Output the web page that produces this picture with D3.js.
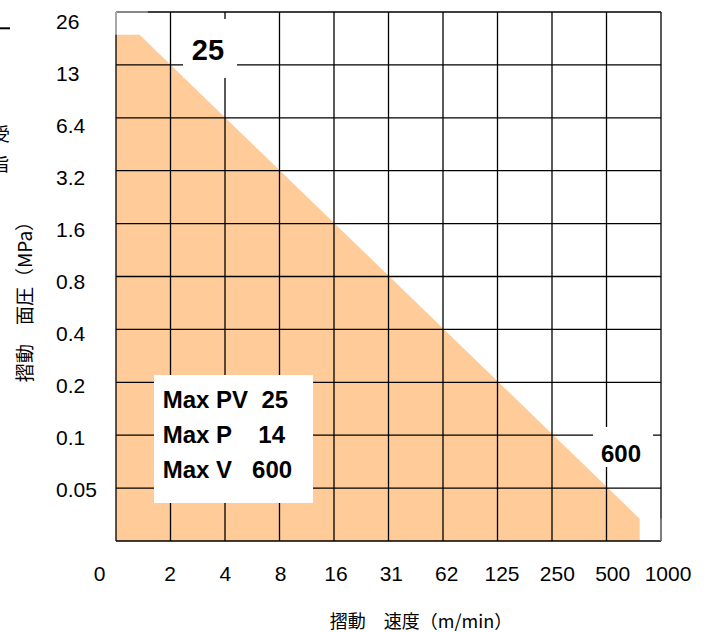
<!DOCTYPE html>
<html>
<head>
<meta charset="utf-8">
<script src="https://cdn.jsdelivr.net/npm/d3@7"></script>
<style>
  body { margin: 0; background: #fff; }
  text { font-family: "Liberation Sans", Arial, sans-serif; fill: #000; }
  .jp { font-family: "Noto Sans CJK JP", sans-serif; }
</style>
</head>
<body>
<div id="target"></div>
<script>
// speed axis (m/min): grid positions on a base-2 log scale, printed labels
const speedGrid = [1, 2, 4, 8, 16, 32, 64, 128, 256, 512, 1024];
const speedLabels = ["0", "2", "4", "8", "16", "31", "62", "125", "250", "500", "1000"];

// pressure axis (MPa)
const pressureGrid = [26, 13, 6.5, 3.25, 1.625, 0.8125, 0.40625, 0.203125, 0.1015625, 0.05078125, 0.025390625];
const pressureLabels = ["26", "13", "6.4", "3.2", "1.6", "0.8", "0.4", "0.2", "0.1", "0.05"];

// allowable PV envelope (speed, pressure)
const envSpeed = [1, 1.35, 781, 781, 1];
const envPressure = [19.3, 19.3, 0.034, 0.025390625, 0.025390625];

// limits box
const limitNames = ["Max PV  25", "Max P    14", "Max V   600"];

function chart() {
  const width = 708,
    height = 632,
    left = 116,
    right = 661,
    top = 12,
    bottom = 541;

  let svg = d3.select("#target").append("svg")
    .attr("width", width)
    .attr("height", height);

  let x = d3.scaleLog().base(2)
    .domain([speedGrid[0], speedGrid[speedGrid.length - 1]])
    .range([left, right]);
  let y = d3.scaleLog().base(2)
    .domain([pressureGrid[pressureGrid.length - 1], pressureGrid[0]])
    .range([bottom, top]);

  // filled envelope
  let pts = envSpeed.map((v, i) => [x(v), y(envPressure[i])]);
  svg.append("path")
    .attr("d", d3.line()(pts) + "Z")
    .attr("fill", "#ffcc99");

  // grid
  svg.append("g")
    .selectAll("line.v")
    .data(speedGrid)
    .enter().append("line")
    .attr("x1", (d) => x(d)).attr("x2", (d) => x(d))
    .attr("y1", top).attr("y2", bottom)
    .attr("stroke", "#000").attr("stroke-width", 1.3);
  svg.append("g")
    .selectAll("line.h")
    .data(pressureGrid)
    .enter().append("line")
    .attr("y1", (d) => y(d)).attr("y2", (d) => y(d))
    .attr("x1", left).attr("x2", right)
    .attr("stroke", "#000").attr("stroke-width", 1.3);

  // greyish frame where the envelope leaves the border
  svg.append("line")
    .attr("x1", left).attr("x2", x(1.5))
    .attr("y1", top).attr("y2", top)
    .attr("stroke", "#999").attr("stroke-width", 1.6);
  svg.append("line")
    .attr("x1", left).attr("x2", left)
    .attr("y1", top).attr("y2", y(envPressure[0]))
    .attr("stroke", "#bbb").attr("stroke-width", 1.6);
  svg.append("line")
    .attr("x1", right).attr("x2", right)
    .attr("y1", y(envPressure[2])).attr("y2", bottom)
    .attr("stroke", "#888").attr("stroke-width", 1.6);

  // tick labels
  let lx = d3.scaleLinear().domain([1, 10]).range([170, 668]);
  svg.append("g")
    .selectAll("text")
    .data(speedLabels)
    .enter().append("text")
    .attr("x", (d, i) => i === 0 ? 99.5 : lx(i))
    .attr("y", 580.5)
    .attr("text-anchor", "middle")
    .style("font-size", "21px")
    .text((d) => d);

  let ly = d3.scalePoint().domain(pressureLabels).range([21.3, 489.2]);
  svg.append("g")
    .selectAll("text")
    .data(pressureLabels)
    .enter().append("text")
    .attr("x", 56)
    .attr("y", (d) => ly(d))
    .attr("dy", "0.36em")
    .style("font-size", "21px")
    .text((d) => d);

  // axis titles
  svg.append("text")
    .attr("class", "jp")
    .attr("x", 421)
    .attr("y", 628)
    .attr("text-anchor", "middle")
    .style("font-size", "18px")
    .text("摺動　速度（m/min）");
  svg.append("text")
    .attr("class", "jp")
    .attr("transform", "translate(31.5,297) rotate(-90)")
    .attr("text-anchor", "middle")
    .style("font-size", "19px")
    .text("摺動　面圧（MPa）");

  // "25" annotation
  svg.append("rect")
    .attr("x", 183).attr("y", 19)
    .attr("width", 54).attr("height", 59)
    .attr("fill", "#fff");
  svg.append("text")
    .attr("x", 208).attr("y", 60)
    .attr("text-anchor", "middle")
    .style("font-size", "29px").style("font-weight", "bold")
    .text("25");

  // "600" annotation
  svg.append("rect")
    .attr("x", 593).attr("y", 427)
    .attr("width", 60).attr("height", 40)
    .attr("fill", "#fff");
  svg.append("text")
    .attr("x", 621).attr("y", 461.7)
    .attr("text-anchor", "middle")
    .style("font-size", "24px").style("font-weight", "bold")
    .text("600");

  // limits box
  svg.append("rect")
    .attr("x", 154).attr("y", 375)
    .attr("width", 159).attr("height", 128)
    .attr("fill", "#fff");
  svg.append("g")
    .selectAll("text")
    .data(limitNames)
    .enter().append("text")
    .attr("x", 162.7)
    .attr("y", (d, i) => 408.3 + i * 34.9)
    .style("font-size", "24px").style("font-weight", "bold")
    .style("white-space", "pre")
    .text((d) => d);

  // remnants of neighbouring content at the left edge
  svg.append("line")
    .attr("x1", 0).attr("x2", 10)
    .attr("y1", 28.3).attr("y2", 28.3)
    .attr("stroke", "#000").attr("stroke-width", 2);
  svg.append("text").attr("class", "jp")
    .attr("x", -8).attr("y", 141)
    .style("font-size", "18px").text("受");
  svg.append("text").attr("class", "jp")
    .attr("x", -8).attr("y", 171)
    .style("font-size", "18px").text("旨");
}
chart();
</script>
</body>
</html>
